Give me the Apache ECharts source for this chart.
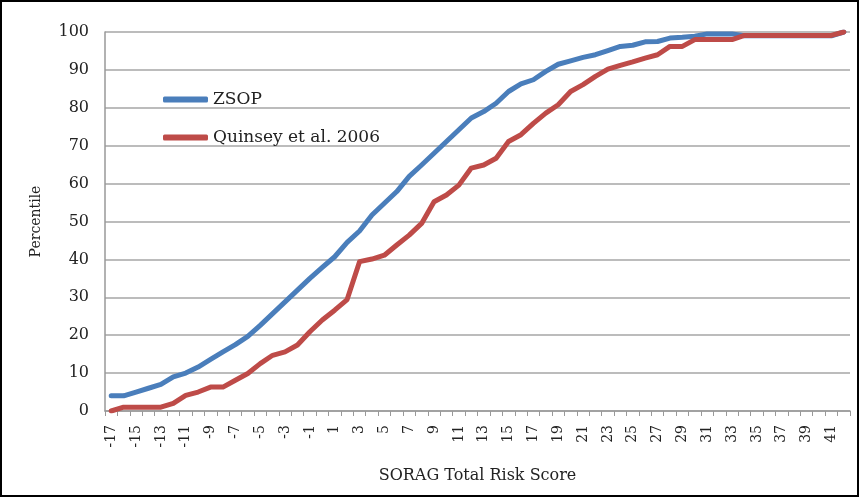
<!DOCTYPE html>
<html>
<head>
<meta charset="utf-8">
<script src="https://cdn.jsdelivr.net/npm/echarts@6/dist/echarts.min.js"></script>
<style>
  html, body { margin: 0; padding: 0; background: #fff; }
  #chart { width: 860px; height: 498px; }
</style>
</head>
<body>
<div id="chart"></div>
<script>
// SORAG total risk score, one category per point
const scores = ['-17','-16','-15','-14','-13','-12','-11','-10','-9','-8','-7','-6','-5','-4','-3','-2','-1','0',
  '1','2','3','4','5','6','7','8','9','10','11','12','13','14','15','16','17','18','19','20',
  '21','22','23','24','25','26','27','28','29','30','31','32','33','34','35','36','37','38','39','40','41','42']

// cumulative percentile per score
const zsop = [4, 4, 5, 6, 7, 9, 10, 11.6, 13.6, 15.6, 17.5, 19.7, 22.6, 25.7, 28.8, 31.9, 35, 37.9, 40.7, 44.5,
  47.5, 51.7, 54.8, 57.9, 61.9, 64.9, 68, 71.1, 74.2, 77.3, 79, 81.2, 84.3, 86.3, 87.4, 89.6, 91.5, 92.4, 93.3, 94,
  95.1, 96.2, 96.5, 97.4, 97.5, 98.4, 98.6, 98.9, 99.5, 99.5, 99.5, 99, 99, 99, 99, 99, 99, 99, 99, 100]

const quinsey = [0, 1, 1, 1, 1, 2, 4.1, 5, 6.3, 6.3, 8.1, 9.9, 12.5, 14.7, 15.6, 17.4, 20.9, 24, 26.6, 29.4,
  39.4, 40.1, 41.1, 43.8, 46.4, 49.5, 55.2, 57, 59.6, 64.1, 64.9, 66.7, 71.1, 72.9, 75.9, 78.6, 80.8, 84.3, 86.1, 88.3,
  90.2, 91.2, 92.1, 93.1, 94, 96.2, 96.2, 98, 98, 98, 98, 99.1, 99.1, 99.1, 99.1, 99.1, 99.1, 99.1, 99.1, 100]

const yTicks = { min: 0, max: 100, interval: 10 }

const chart = echarts.init(document.getElementById('chart'))
const serif = 'DejaVu Serif'

chart.setOption({
  animation: false,
  backgroundColor: '#fff',
  graphic: [{
    type: 'rect',
    shape: { x: 1, y: 1, width: 857, height: 495 },
    style: { fill: 'none', stroke: '#000', lineWidth: 2 },
    silent: true
  }],
  grid: { left: 105, right: 10, top: 32, bottom: 87, containLabel: false },
  legend: {
    orient: 'vertical',
    left: 158,
    top: 86,
    icon: 'roundRect',
    itemWidth: 45,
    itemHeight: 6,
    itemGap: 21,
    textStyle: { fontFamily: serif, fontSize: 17, color: '#222' },
    data: ['ZSOP', 'Quinsey et al. 2006']
  },
  xAxis: {
    type: 'category',
    data: scores,
    boundaryGap: true,
    name: 'SORAG Total Risk Score',
    nameLocation: 'middle',
    nameGap: 57,
    nameTextStyle: { fontFamily: serif, fontSize: 16, color: '#222' },
    axisLine: { lineStyle: { color: '#999', width: 1.5 } },
    axisTick: { show: true, interval: 0, length: 5, lineStyle: { color: '#999' } },
    axisLabel: { interval: 1, rotate: 90, fontFamily: serif, fontSize: 14, color: '#222', margin: 14 },
    splitLine: { show: false }
  },
  yAxis: {
    type: 'value',
    min: yTicks.min,
    max: yTicks.max,
    interval: yTicks.interval,
    name: 'Percentile',
    nameLocation: 'middle',
    nameGap: 62,
    nameTextStyle: { fontFamily: serif, fontSize: 14, color: '#222' },
    axisLine: { show: true, lineStyle: { color: '#999', width: 1.5 } },
    axisTick: { show: false },
    axisLabel: { fontFamily: serif, fontSize: 16, color: '#222', margin: 16 },
    splitLine: { lineStyle: { color: '#a6a6a6', width: 1.5 } }
  },
  series: [
    {
      name: 'ZSOP',
      type: 'line',
      data: zsop,
      symbol: 'none',
      lineStyle: { color: '#4a7ebb', width: 5, join: 'round', cap: 'round' },
      itemStyle: { color: '#4a7ebb' }
    },
    {
      name: 'Quinsey et al. 2006',
      type: 'line',
      data: quinsey,
      symbol: 'none',
      lineStyle: { color: '#be4b48', width: 5, join: 'round', cap: 'round' },
      itemStyle: { color: '#be4b48' }
    }
  ]
})
</script>
</body>
</html>
